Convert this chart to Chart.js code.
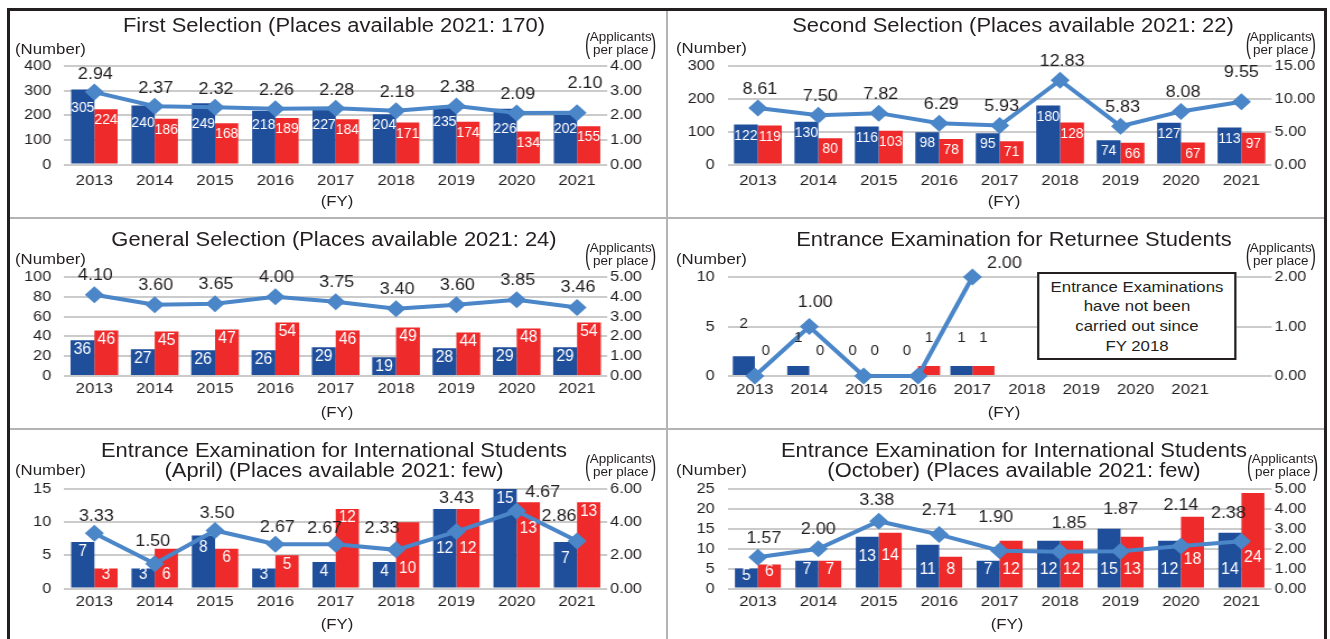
<!DOCTYPE html>
<html><head><meta charset="utf-8">
<title>Applicants and admissions by selection type</title>
<script src="https://cdn.jsdelivr.net/npm/chart.js@4.4.1/dist/chart.umd.min.js"></script>
<style>
html,body{margin:0;padding:0;background:#fff}
body{width:1330px;height:639px;overflow:hidden;position:relative;font-family:"Liberation Sans",Arial,Helvetica,sans-serif;color:#231f20}
#frame{position:absolute;left:7px;top:8px;width:1320px;height:660px;border:3px solid #231f20;box-sizing:border-box}
.dv{position:absolute;background:#b4b4b4}
#stage{position:absolute;left:0;top:0;width:1190px;height:639px;transform-origin:0 0}
#stage canvas{position:absolute}
.txt{position:absolute;white-space:nowrap;line-height:1;transform:translate(-50%,-50%)}
.lt{position:absolute;white-space:nowrap;line-height:1;transform:translate(0,-50%)}
.ap{position:absolute;display:flex;align-items:center;height:27px;white-space:nowrap}
.ap .pa{display:inline-block;font-size:28px;line-height:27px;transform:scaleX(.5);margin:0 -3px}
.ap .apt{font-size:12px;line-height:13px;text-align:center}
.note{position:absolute;border:2px solid #231f20;background:#fff;text-align:center;font-size:15px;line-height:19.7px;box-sizing:border-box;display:flex;align-items:center;justify-content:center}
</style></head>
<body>
<div id="stage"></div>
<div id="frame"></div>
<div class="dv" style="left:666px;top:11px;width:2px;height:628px"></div>
<div class="dv" style="left:10px;top:217px;width:1314px;height:2px"></div>
<div class="dv" style="left:10px;top:428px;width:1314px;height:2px"></div>
<script>
// ---------- data ----------
const years = ['2013','2014','2015','2016','2017','2018','2019','2020','2021'];
const returneeYears = ['2013','2014','2015','2016','2017','2018','2019','2020','2021',''];

const firstBlue  = [305,240,249,218,227,204,235,226,202];
const firstRed   = [224,186,168,189,184,171,174,134,155];
const firstRatio = [2.94,2.37,2.32,2.26,2.28,2.18,2.38,2.09,2.10];
const firstLeftTicks  = [0,100,200,300,400];
const firstRightTicks = [0,1,2,3,4];

const secondBlue  = [122,130,116,98,95,180,74,127,113];
const secondRed   = [119,80,103,78,71,128,66,67,97];
const secondRatio = [8.61,7.50,7.82,6.29,5.93,12.83,5.83,8.08,9.55];
const secondLeftTicks  = [0,100,200,300];
const secondRightTicks = [0,5,10,15];

const generalBlue  = [36,27,26,26,29,19,28,29,29];
const generalRed   = [46,45,47,54,46,49,44,48,54];
const generalRatio = [4.10,3.60,3.65,4.00,3.75,3.40,3.60,3.85,3.46];
const generalLeftTicks  = [0,20,40,60,80,100];
const generalRightTicks = [0,1,2,3,4,5];

const returneeBlue  = [2,1,0,0,1,null,null,null,null,null];
const returneeRed   = [0,0,0,1,1,null,null,null,null,null];
const returneeRatio = [0,1.00,0,0,2.00,null,null,null,null,null];
const returneeLeftTicks  = [0,5,10];
const returneeRightTicks = [0,1,2];

const aprilBlue  = [7,3,8,3,4,4,12,15,7];
const aprilRed   = [3,6,6,5,12,10,12,13,13];
const aprilRatio = [3.33,1.50,3.50,2.67,2.67,2.33,3.43,4.67,2.86];
const aprilLeftTicks  = [0,5,10,15];
const aprilRightTicks = [0,2,4,6];

const octBlue  = [5,7,13,11,7,12,15,12,14];
const octRed   = [6,7,14,8,12,12,13,18,24];
const octRatio = [1.57,2.00,3.38,2.71,1.90,1.85,1.87,2.14,2.38];
const octLeftTicks  = [0,5,10,15,20,25];
const octRightTicks = [0,1,2,3,4,5];

// ---------- style ----------
const S = 1.12;
const BLUE = '#1f4e9b', RED = '#ee2a2a', LINE = '#4a86c8', INK = '#231f20', GRID = '#cbcbcb';
const FONT = '"Liberation Sans", Arial, Helvetica, sans-serif';
Chart.defaults.font.family = FONT;
Chart.defaults.color = INK;

const panels = [
  { cats: years, blue: firstBlue, red: firstRed, ratio: firstRatio, lt: firstLeftTicks, rt: firstRightTicks,
    box: [11, 11, 655, 206], area: [64, 66, 607, 164.5], catPct: 0.77, xPad: 7,
    title: ['First Selection (Places available 2021: 170)'], titleX: 334, titleY: [25.5],
    numX: 15, numY: 47.5, apX: 586, apY: 30, fyX: 337, fyY: 200,
    bar: { mode: 'end', off: 11, size: 15, condense: 0.83, avoid: true, minBase: 8 },
    line: { dx: 1, dy: -18, size: 16, adj: { 8: [8, -29] } } },
  { cats: years, blue: secondBlue, red: secondRed, ratio: secondRatio, lt: secondLeftTicks, rt: secondRightTicks,
    box: [669, 11, 654, 206], area: [728, 66, 1272, 164.5], catPct: 0.79, xPad: 7,
    title: ['Second Selection (Places available 2021: 22)'], titleX: 1013, titleY: [25.5],
    numX: 676, numY: 47, apX: 1246, apY: 30, fyX: 1004, fyY: 200,
    bar: { mode: 'end', off: 11, size: 15, condense: 0.83, avoid: true, minBase: 8 },
    line: { dx: 2, dy: -18.5, size: 16, adj: { 8: [0, -29] } } },
  { cats: years, blue: generalBlue, red: generalRed, ratio: generalRatio, lt: generalLeftTicks, rt: generalRightTicks,
    box: [11, 220, 655, 208], area: [64, 277, 607, 376], catPct: 0.79, xPad: 3.5,
    title: ['General Selection (Places available 2021: 24)'], titleX: 334, titleY: [240],
    numX: 15, numY: 258, apX: 586, apY: 241, fyX: 337, fyY: 411,
    bar: { mode: 'end', off: 9, size: 17, condense: 0.83, avoid: false, minBase: 8 },
    line: { dx: 1, dy: -19.5, size: 16 } },
  { cats: returneeYears, blue: returneeBlue, red: returneeRed, ratio: returneeRatio, lt: returneeLeftTicks, rt: returneeRightTicks,
    box: [669, 220, 654, 208], area: [728, 277, 1272, 376], catPct: 0.81, xPad: 5,
    title: ['Entrance Examination for Returnee Students'], titleX: 1014, titleY: [240],
    numX: 676, numY: 258, apX: 1246, apY: 241, fyX: 1004, fyY: 411,
    note: { x: 1037, y: 272, w: 200, h: 88, lines: ['Entrance Examinations', 'have not been', 'carried out since', 'FY 2018'] },
    bar: { mode: 'outside', gap: 25, k: 0.4, size: 15, condense: 0.9 },
    line: { dx: 6, dy: -24, size: 16, hideZero: true, adj: { 4: [32, -13] } } },
  { cats: years, blue: aprilBlue, red: aprilRed, ratio: aprilRatio, lt: aprilLeftTicks, rt: aprilRightTicks,
    box: [11, 431, 655, 208], area: [64, 489, 607, 588.5], catPct: 0.77, xPad: 4.2,
    title: ['Entrance Examination for International Students', '(April) (Places available 2021: few)'], titleX: 334, titleY: [450.7, 471],
    numX: 15, numY: 468.5, apX: 586, apY: 452, fyX: 337, fyY: 622.7,
    bar: { mode: 'end', off: 9, size: 16.5, condense: 0.83, avoid: true, minBase: 13, adj: { '0:7': 'keep', '1:5': 37 } },
    line: { dx: 2, dy: -17, size: 16, adj: { 1: [-2, -22], 4: [-11, -16], 5: [-14, -21], 6: [0, -33], 7: [26, -18], 8: [-18, -24] } } },
  { cats: years, blue: octBlue, red: octRed, ratio: octRatio, lt: octLeftTicks, rt: octRightTicks,
    box: [669, 431, 654, 208], area: [728, 489, 1272, 588.5], catPct: 0.76, xPad: 4.2,
    title: ['Entrance Examination for International Students', '(October) (Places available 2021: few)'], titleX: 1014, titleY: [450.7, 471],
    numX: 676, numY: 468.5, apX: 1248, apY: 452, fyX: 1007, fyY: 622.7,
    bar: { mode: 'base', off: 18, minTop: 7, size: 17, condense: 0.83, adj: { '0:2': -13, '1:2': -14, '1:7': -10, '1:8': -12 } },
    line: { dx: 0, dy: -19, size: 16, adj: { 0: [6, -19], 2: [-2, -21], 3: [0, -24], 4: [-4, -33], 5: [9, -28], 6: [0, -42], 7: [0, -40], 8: [-13, -28] } } }
];

const POINT_R = 8.5;

const valueLabels = {
  id: 'valueLabels',
  afterDatasetsDraw(chart, args, o) {
    const p = o.panel; if (!p) return;
    const ctx = chart.ctx;
    const lineMeta = chart.getDatasetMeta(2);
    const ratio = chart.data.datasets[2].data;
    ctx.save();
    ctx.textAlign = 'center';
    ctx.textBaseline = 'middle';
    const b = p.bar;
    [0, 1].forEach(di => {
      const meta = chart.getDatasetMeta(di);
      const vals = chart.data.datasets[di].data;
      meta.data.forEach((el, i) => {
        const v = vals[i];
        if (v === null || v === undefined) return;
        const pr = el.getProps(['x', 'y', 'base'], true);
        const x = pr.x, y = pr.y, base = pr.base;
        const txt = String(v);
        ctx.font = b.size + 'px ' + FONT;
        const w = ctx.measureText(txt).width * b.condense;
        const hh = b.size * 0.45;
        const key = di + ':' + i;
        const adj = b.adj ? b.adj[key] : undefined;
        let cy;
        if (b.mode === 'outside') {
          cy = y - b.gap - b.k * (base - y);
        } else if (b.mode === 'base') {
          cy = Math.max(base - b.off, y + b.minTop);
        } else {
          cy = y + b.off;
          if (b.avoid && adj !== 'keep' && ratio[i] !== null && ratio[i] !== undefined) {
            const pt = lineMeta.data[i];
            const hx = Math.min(x + w / 2, pt.x + POINT_R) - Math.max(x - w / 2, pt.x - POINT_R);
            const vy = Math.min(cy + hh, pt.y + POINT_R) - Math.max(cy - hh, pt.y - POINT_R);
            if (hx > 0 && vy > 1) cy = pt.y + POINT_R + 1 + hh;
          }
          cy = Math.min(cy, base - b.minBase);
        }
        if (typeof adj === 'number') cy += adj;
        ctx.fillStyle = b.mode === 'outside' ? INK : '#ffffff';
        ctx.save();
        ctx.translate(x, cy);
        ctx.scale(b.condense, 1);
        ctx.fillText(txt, 0, 0);
        ctx.restore();
      });
    });
    const l = p.line;
    ctx.font = l.size + 'px ' + FONT;
    ctx.fillStyle = INK;
    lineMeta.data.forEach((pt, i) => {
      const v = ratio[i];
      if (v === null || v === undefined) return;
      if (l.hideZero && v === 0) return;
      const a = (l.adj && l.adj[i]) || [l.dx, l.dy];
      ctx.fillText(v.toFixed(2), pt.x + a[0] / S, pt.y + a[1]);
    });
    ctx.restore();
  }
};

const stage = document.getElementById('stage');
stage.style.transform = 'scaleX(' + S + ')';

function addText(cls, x, y, txt, size) {
  const d = document.createElement('div');
  d.className = cls;
  d.style.left = (x / S) + 'px';
  d.style.top = y + 'px';
  d.style.fontSize = size + 'px';
  d.textContent = txt;
  stage.appendChild(d);
  return d;
}

panels.forEach(p => {
  const [bx, by, bw, bh] = p.box;
  const [al, at, ar, ab] = p.area;
  const cw = Math.round(bw / S), ch = bh;
  const cv = document.createElement('canvas');
  cv.width = cw; cv.height = ch;
  cv.style.left = (bx / S) + 'px';
  cv.style.top = by + 'px';
  cv.style.width = cw + 'px';
  cv.style.height = ch + 'px';
  stage.appendChild(cv);
  const L = (al - bx) / S;
  const Rw = cw - (ar - bx) / S;
  const T = at - by;
  const B = by + bh - ab;
  const tickFont = { family: FONT, size: 14.5 };

  new Chart(cv, {
    type: 'bar',
    data: {
      labels: p.cats,
      datasets: [
        { type: 'bar', data: p.blue, backgroundColor: BLUE, yAxisID: 'y', order: 1, categoryPercentage: p.catPct, barPercentage: 1, borderWidth: 0 },
        { type: 'bar', data: p.red, backgroundColor: RED, yAxisID: 'y', order: 1, categoryPercentage: p.catPct, barPercentage: 1, borderWidth: 0 },
        { type: 'line', data: p.ratio, yAxisID: 'y1', order: 0, borderColor: LINE, backgroundColor: LINE, borderWidth: 4,
          pointStyle: 'rectRot', pointRadius: POINT_R, pointBackgroundColor: LINE, pointBorderColor: LINE, pointBorderWidth: 0,
          tension: 0, spanGaps: false, clip: false }
      ]
    },
    options: {
      responsive: false, animation: false, devicePixelRatio: 1,
      layout: { padding: { top: T, left: 0, right: 0, bottom: 0 } },
      plugins: { legend: { display: false }, tooltip: { enabled: false }, title: { display: false }, valueLabels: { panel: p } },
      scales: {
        x: {
          grid: { display: false, drawTicks: false }, border: { display: false },
          ticks: { color: INK, font: { family: FONT, size: 15 }, padding: p.xPad, maxRotation: 0, autoSkip: false },
          afterFit(s) { s.height = B; }
        },
        y: {
          position: 'left', min: p.lt[0], max: p.lt[p.lt.length - 1],
          afterBuildTicks(s) { s.ticks = p.lt.map(v => ({ value: v })); },
          grid: { color: GRID, lineWidth: 2, drawTicks: false }, border: { display: false },
          ticks: { color: INK, font: tickFont, padding: 13 / S, autoSkip: false },
          afterFit(s) { s.width = L; }
        },
        y1: {
          position: 'right', min: p.rt[0], max: p.rt[p.rt.length - 1],
          afterBuildTicks(s) { s.ticks = p.rt.map(v => ({ value: v })); },
          grid: { display: false, drawTicks: false }, border: { display: false },
          ticks: { color: INK, font: tickFont, padding: 3 / S, autoSkip: false, callback: v => Number(v).toFixed(2) },
          afterFit(s) { s.width = Rw; }
        }
      }
    },
    plugins: [valueLabels]
  });

  p.title.forEach((t, k) => addText('txt', p.titleX, p.titleY[k], t, 19.6));
  addText('lt', p.numX, p.numY, '(Number)', 15);
  addText('txt', p.fyX, p.fyY, '(FY)', 15);

  const ap = document.createElement('div');
  ap.className = 'ap';
  ap.style.left = (p.apX / S) + 'px';
  ap.style.top = p.apY + 'px';
  ap.innerHTML = '<span class="pa">(</span><span class="apt">Applicants<br>per place</span><span class="pa">)</span>';
  stage.appendChild(ap);

  if (p.note) {
    const n = document.createElement('div');
    n.className = 'note';
    n.style.left = (p.note.x / S) + 'px';
    n.style.top = p.note.y + 'px';
    n.style.width = (p.note.w / S) + 'px';
    n.style.height = p.note.h + 'px';
    n.innerHTML = '<div>' + p.note.lines.join('<br>') + '</div>';
    stage.appendChild(n);
  }
});
</script>
</body></html>
